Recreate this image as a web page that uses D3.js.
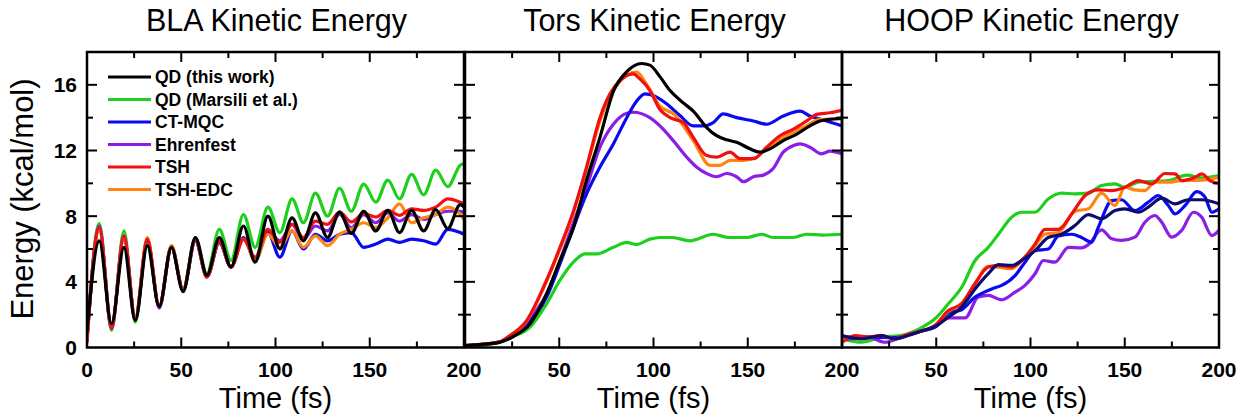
<!DOCTYPE html>
<html>
<head>
<meta charset="utf-8">
<script src="https://cdn.jsdelivr.net/npm/d3@7"></script>
<style>
  body { margin: 0; background: #fff; }
  text { font-family: Arial, "Liberation Sans", sans-serif; }
</style>
</head>
<body>
<div id="chart"></div>
<script>
// ---- data ----
var panelTitles = ["BLA Kinetic Energy", "Tors Kinetic Energy", "HOOP Kinetic Energy"];
var seriesNames = ["QD (this work)", "QD (Marsili et al.)", "CT-MQC", "Ehrenfest", "TSH", "TSH-EDC"];
var xTicks = [0, 50, 100, 150, 200];
var yTicks = [0, 4, 8, 12, 16];

// BLA panel: shared time grid (peaks / troughs of the oscillation)
var blaTime = [0, 6.5, 13, 19.6, 25.6, 32, 38.3, 44.8, 51, 57.5, 63.6, 70.2, 76.4, 83, 89.2, 96, 102.3, 108.8, 114.8,
               121.2, 127.6, 134, 140.2, 146.8, 153.2, 159.6, 165.8, 172.2, 178.6, 185, 191.4, 198, 200];
var blaQD      = [1.0, 6.5, 1.45, 6.1, 1.65, 6.2, 2.5, 6.1, 3.4, 6.7, 4.4, 6.7, 4.9, 7.4, 5.2, 8.0, 6.0, 7.9, 6.5,
                  8.2, 6.7, 8.25, 6.95, 8.3, 7.1, 8.35, 7.0, 8.35, 7.1, 8.4, 7.25, 8.7, 8.55];
var blaMarsili = [0.4, 7.55, 1.05, 7.1, 1.55, 6.55, 2.45, 6.2, 3.55, 6.7, 4.5, 7.2, 5.3, 8.1, 6.1, 8.55, 7.0, 9.05, 7.6,
                  9.4, 8.0, 9.7, 8.3, 9.95, 8.85, 10.2, 9.05, 10.55, 9.3, 10.8, 9.8, 11.1, 11.2];
var blaCTMQC   = [0.5, 7.2, 1.3, 6.7, 1.8, 6.5, 2.5, 6.1, 3.5, 6.5, 4.3, 6.4, 4.9, 6.7, 5.3, 7.0, 5.5, 7.1, 6.0,
                  6.9, 6.5, 6.9, 7.0, 6.1, 6.3, 6.6, 6.4, 6.6, 6.5, 6.3, 7.2, 7.0, 6.9];
var blaEhren   = [0.3, 7.4, 1.15, 6.8, 1.7, 6.6, 2.4, 6.1, 3.5, 6.6, 4.3, 6.4, 4.9, 6.6, 5.4, 7.1, 6.5, 7.5, 6.6,
                  7.4, 7.1, 8.1, 7.3, 8.1, 7.6, 8.2, 7.7, 8.1, 7.8, 8.1, 8.3, 8.3, 8.2];
var blaTSH     = [0.5, 7.3, 1.2, 6.8, 1.7, 6.6, 2.5, 6.1, 3.5, 6.6, 4.3, 6.5, 4.9, 6.6, 5.5, 7.2, 6.4, 7.5, 6.7,
                  7.7, 7.5, 8.25, 7.65, 8.15, 7.95, 8.35, 8.05, 8.45, 8.35, 8.55, 9.05, 8.85, 8.75];
var blaEDC     = [0.5, 7.2, 1.3, 6.7, 1.8, 6.7, 2.5, 6.2, 3.5, 6.6, 4.3, 6.5, 4.9, 6.6, 5.3, 6.9, 6.1, 7.1, 6.1,
                  6.8, 6.2, 6.9, 7.2, 7.6, 7.3, 7.9, 8.75, 7.6, 7.9, 8.1, 8.55, 8.1, 7.8];

// Tors panel: [time, energy]
var torsQD = [[0,0.12],[10,0.2],[18.6,0.32],[25.6,0.67],[34.5,1.44],[43.3,3.27],[50.4,5.3],[57.5,7.3],[64.5,10.2],
  [71.6,12.8],[78.7,15.6],[85.8,16.8],[93.7,17.3],[98.1,17.2],[103.4,16.5],[108.8,15.65],[115.8,14.9],[121.1,14.4],
  [128.2,13.4],[133.5,12.9],[138.8,12.65],[144.1,12.5],[151.2,12.1],[156.4,11.9],[161.8,12.1],[168.8,12.6],
  [176,13.0],[183,13.5],[188.3,13.8],[193.6,13.9],[200,13.95]];
var torsMarsili = [[0,0.06],[10,0.15],[18.6,0.32],[25.6,0.67],[34.5,1.24],[43.3,2.66],[50.4,4.1],[57.5,5.2],
  [63.6,5.7],[69.8,5.7],[78.7,6.1],[85.8,6.4],[91,6.27],[98.1,6.6],[103.4,6.7],[110,6.7],[119.3,6.5],[131.7,6.9],
  [140,6.7],[149.4,6.7],[157.4,6.9],[163.5,6.7],[174.2,6.7],[181.2,6.9],[190,6.85],[200,6.9]];
var torsCTMQC = [[0,0.12],[10,0.2],[18.6,0.35],[23.9,0.7],[32.7,1.44],[43.3,3.07],[50.4,5.1],[57.5,7.3],
  [64.5,9.36],[71.6,11.0],[78.7,12.4],[85.8,14.0],[91,15.0],[95.5,15.45],[99.9,15.35],[107,14.84],[114,14.13],
  [121.1,13.5],[126.4,13.5],[131.7,13.7],[137,14.23],[144.1,14.0],[153,13.8],[160,13.6],[168.8,14.1],[177.7,14.4],
  [183,14.1],[191.9,13.8],[200,13.5]];
var torsEhren = [[0,0.12],[10,0.2],[18.6,0.35],[23.9,0.7],[32.7,1.54],[43.3,3.27],[50.4,5.3],[57.5,7.6],
  [64.5,9.76],[71.6,12.2],[78.7,13.6],[85.8,14.27],[89.3,14.33],[98.1,14.0],[103.4,13.5],[110.5,12.6],[117.6,11.6],
  [122.8,11.0],[128.2,10.6],[133.5,10.4],[138.8,10.6],[144.1,10.4],[147.7,10.1],[153,10.4],[158.3,10.5],
  [163.5,10.9],[168.8,11.9],[174.2,12.3],[177.7,12.4],[183,12.2],[189.2,11.8],[193.6,11.96],[200,11.8]];
var torsTSH = [[0,0.12],[10,0.2],[18.6,0.35],[23.9,0.73],[32.7,1.64],[41.6,3.67],[50.4,6.1],[57.5,8.3],
  [64.5,11.0],[71.6,14.0],[76.9,15.45],[82.2,16.26],[89.3,16.67],[92.8,16.36],[98.1,15.65],[103.4,14.5],
  [108.8,14.0],[115.8,13.7],[121.1,12.8],[128.2,11.7],[133.5,11.6],[140.6,11.9],[145.9,11.5],[153,11.5],
  [160,12.2],[167.1,12.9],[174.2,13.3],[181.2,13.8],[186.6,14.2],[193.6,14.3],[200,14.45]];
var torsEDC = [[0,0.12],[10,0.2],[18.6,0.35],[23.9,0.73],[32.7,1.6],[41.6,3.6],[50.4,6.0],[57.5,8.2],
  [64.5,10.9],[71.6,13.8],[76.9,15.3],[82.2,16.2],[91,16.77],[97,15.9],[103.4,14.7],[111,14.2],[121.1,12.6],
  [130,11.1],[135.3,11.1],[140.6,11.4],[147.7,11.4],[154.8,11.6],[160,12.1],[170.5,12.9],[181.2,13.5],
  [188.3,13.9],[193,13.9],[200,14.0]];

// HOOP panel: [time, energy]
var hoopQD = [[0,0.73],[10.4,0.53],[21,0.73],[28,0.53],[35,0.73],[42,1.0],[49.3,1.28],[56.4,1.85],[63.5,2.46],
  [70.6,3.57],[77.6,4.5],[83,5.05],[90,5.0],[95.3,5.3],[102.4,5.9],[109.4,6.7],[116.5,6.9],[123.6,7.43],
  [130.7,8.1],[137.7,7.84],[144.8,8.34],[150.1,8.45],[157.2,8.24],[162.5,8.55],[169.6,9.1],[176.7,8.75],
  [183.7,9.0],[190.8,9.0],[200,8.75]];
var hoopMarsili = [[0,0.53],[10.4,0.32],[21,0.63],[31,0.73],[42,1.2],[49.3,1.75],[56.4,2.66],[63.5,3.67],
  [70.6,5.3],[77.6,6.1],[83,6.9],[90,7.94],[95.3,8.24],[102.4,8.24],[109.4,9.05],[116.5,9.4],[123.6,9.36],
  [130.7,9.4],[137.7,9.87],[144.8,9.97],[150.1,9.76],[157.2,10.07],[173,10.17],[183,10.5],[190.8,10.33],[200,10.48]];
var hoopCTMQC = [[0,0.63],[14,0.63],[28,0.6],[42,1.0],[49.3,1.24],[56.4,2.1],[63.5,2.3],[70.6,3.07],[74.2,3.3],
  [79.4,3.57],[84.7,3.78],[91.8,4.38],[97.1,5.2],[102.4,5.9],[109.4,6.0],[114.8,6.8],[121.9,6.9],[127.1,6.7],
  [132.4,6.4],[136,7.33],[143.1,8.95],[148.3,9.0],[155.4,8.34],[162.5,8.85],[167.8,9.26],[173.1,8.65],
  [176.7,8.14],[182,8.65],[188.2,9.5],[192.6,9.16],[196.2,8.24],[200,8.45]];
var hoopEhren = [[0,0.43],[14,0.63],[22.8,0.32],[31.5,0.63],[42,1.0],[49.3,1.24],[56.4,1.8],[65.3,1.8],
  [72.3,3.07],[77.6,3.17],[84.7,2.9],[91.8,3.37],[97.1,3.78],[102.4,4.49],[106.8,5.3],[113,5.2],[120.1,6.1],
  [127.1,6.07],[130.7,6.27],[137.7,7.17],[143.1,6.62],[148.3,6.52],[155.4,6.72],[160.7,7.63],[166,8.04],
  [169.6,7.63],[174.9,6.72],[180.2,7.13],[186.4,8.24],[190.8,7.94],[196.2,6.82],[200,7.13]];
var hoopTSH = [[0,0.3],[7,0.73],[14,0.63],[21,0.73],[28,0.53],[35,0.8],[42,1.0],[49.3,1.34],[56.4,2.25],
  [63.5,2.66],[70.6,3.9],[77.6,4.9],[83,5.0],[90,4.9],[95.3,5.3],[102.4,6.3],[107.7,7.2],[114.8,7.2],[121.9,8.14],
  [129,9.26],[136,9.6],[143.1,9.56],[150.1,9.76],[157.2,10.17],[164.3,9.97],[171.3,10.6],[176.7,10.58],
  [180.2,10.17],[187.3,10.37],[190.8,10.58],[195.2,10.17],[200,10.0]];
var hoopEDC = [[0,0.4],[7,0.7],[14,0.63],[21,0.73],[28,0.53],[35,0.8],[42,1.0],[49.3,1.34],[56.4,2.2],
  [63.5,2.7],[70.6,3.9],[77.6,4.95],[83,4.9],[90,4.8],[95.3,5.3],[102.4,6.2],[107.7,6.9],[114.8,7.0],[123.6,8.3],
  [130.7,8.45],[137.7,9.4],[144.8,8.65],[150.1,9.76],[155.4,9.6],[160.7,9.56],[166,10.07],[173.1,10.07],
  [180,10.17],[190.8,10.2],[200,10.37]];

var colors = ["#000000", "#1ecf1e", "#0a0af0", "#8a1ee6", "#f01010", "#ff8410"];
var hoopQDColor = "#0c0c70";

// ---- layout ----
var W = 1239, H = 418;
var panelLeft = [87, 465, 842];
var panelW = 377;
var plotTop = 52, plotBottom = 347.5;

var svg = d3.select("#chart").append("svg")
    .attr("width", W).attr("height", H)
    .style("background", "#fff");

var y = d3.scaleLinear().domain([0, 18]).range([plotBottom, plotTop]);

var line = function (x) {
    return d3.line()
        .x(function (d) { return x(d[0]); })
        .y(function (d) { return y(d[1]); })
        .curve(d3.curveMonotoneX);
};

function zip(t, v) {
    return t.map(function (tt, i) { return [tt, v[i]]; });
}

var panelSeries = [
    [zip(blaTime, blaQD), zip(blaTime, blaMarsili), zip(blaTime, blaCTMQC), zip(blaTime, blaEhren), zip(blaTime, blaTSH), zip(blaTime, blaEDC)],
    [torsQD, torsMarsili, torsCTMQC, torsEhren, torsTSH, torsEDC],
    [hoopQD, hoopMarsili, hoopCTMQC, hoopEhren, hoopTSH, hoopEDC]
];
// drawing order: green, purple, blue, orange, red, black on top
var drawOrder = [1, 3, 2, 5, 4, 0];

panelTitles.forEach(function (title, p) {
    var x0 = panelLeft[p];
    var x = d3.scaleLinear().domain([0, 200]).range([x0, x0 + panelW]);
    var g = svg.append("g");

    g.append("clipPath").attr("id", "clip" + p)
      .append("rect").attr("x", x0).attr("y", plotTop).attr("width", panelW).attr("height", plotBottom - plotTop);

    var lines = g.append("g").attr("clip-path", "url(#clip" + p + ")");
    drawOrder.forEach(function (s) {
        var c = colors[s];
        if (p === 2 && s === 0) c = hoopQDColor;
        lines.append("path")
            .datum(panelSeries[p][s])
            .attr("fill", "none")
            .attr("stroke", c)
            .attr("stroke-width", 3.2)
            .attr("stroke-linejoin", "round")
            .attr("d", line(x));
    });

    // inward ticks on all four sides
    var xMinor = d3.range(25, 200, 50);
    var yMinor = d3.range(2, 18, 4);
    var tk = g.append("g").attr("stroke", "#000").attr("stroke-width", 2);
    xTicks.forEach(function (t) {
        if (t === 0 || t === 200) return;
        tk.append("line").attr("x1", x(t)).attr("x2", x(t)).attr("y1", plotBottom).attr("y2", plotBottom - 10);
        tk.append("line").attr("x1", x(t)).attr("x2", x(t)).attr("y1", plotTop).attr("y2", plotTop + 10);
    });
    xMinor.forEach(function (t) {
        tk.append("line").attr("x1", x(t)).attr("x2", x(t)).attr("y1", plotBottom).attr("y2", plotBottom - 6);
        tk.append("line").attr("x1", x(t)).attr("x2", x(t)).attr("y1", plotTop).attr("y2", plotTop + 6);
    });
    yTicks.forEach(function (v) {
        if (v === 0) return;
        tk.append("line").attr("x1", x0).attr("x2", x0 + 10).attr("y1", y(v)).attr("y2", y(v));
        tk.append("line").attr("x1", x0 + panelW).attr("x2", x0 + panelW - 10).attr("y1", y(v)).attr("y2", y(v));
    });
    yMinor.forEach(function (v) {
        tk.append("line").attr("x1", x0).attr("x2", x0 + 6).attr("y1", y(v)).attr("y2", y(v));
        tk.append("line").attr("x1", x0 + panelW).attr("x2", x0 + panelW - 6).attr("y1", y(v)).attr("y2", y(v));
    });

    // frame
    g.append("rect")
        .attr("x", x0).attr("y", plotTop)
        .attr("width", panelW).attr("height", plotBottom - plotTop)
        .attr("fill", "none").attr("stroke", "#000").attr("stroke-width", 2.5);

    // x tick labels (first panel keeps its 0)
    xTicks.forEach(function (t) {
        if (p > 0 && t === 0) return;
        g.append("text")
            .attr("x", x(t)).attr("y", 377)
            .attr("text-anchor", "middle")
            .style("font-size", "21px").style("font-weight", "bold")
            .text(t);
    });

    g.append("text")
        .attr("x", x0 + panelW / 2).attr("y", 408)
        .attr("text-anchor", "middle")
        .style("font-size", "29px")
        .text("Time (fs)");

    g.append("text")
        .attr("x", x0 + panelW / 2 + 1).attr("y", 31)
        .attr("text-anchor", "middle")
        .style("font-size", "30.5px")
        .text(title);
});

// y axis labels on the first panel
yTicks.forEach(function (v) {
    svg.append("text")
        .attr("x", 77).attr("y", y(v))
        .attr("dy", "0.36em")
        .attr("text-anchor", "end")
        .style("font-size", "21px").style("font-weight", "bold")
        .text(v);
});

svg.append("text")
    .attr("transform", "translate(33,199) rotate(-90)")
    .attr("text-anchor", "middle")
    .style("font-size", "31px")
    .text("Energy (kcal/mol)");

// legend
var legendY = [77, 99.5, 122, 144.5, 167, 189.5];
seriesNames.forEach(function (name, i) {
    svg.append("line")
        .attr("x1", 108).attr("x2", 151)
        .attr("y1", legendY[i]).attr("y2", legendY[i])
        .attr("stroke", colors[i]).attr("stroke-width", 3.2);
    svg.append("text")
        .attr("x", 155).attr("y", legendY[i])
        .attr("dy", "0.36em")
        .style("font-size", "17.5px").style("font-weight", "bold")
        .text(name);
});
</script>
</body>
</html>
